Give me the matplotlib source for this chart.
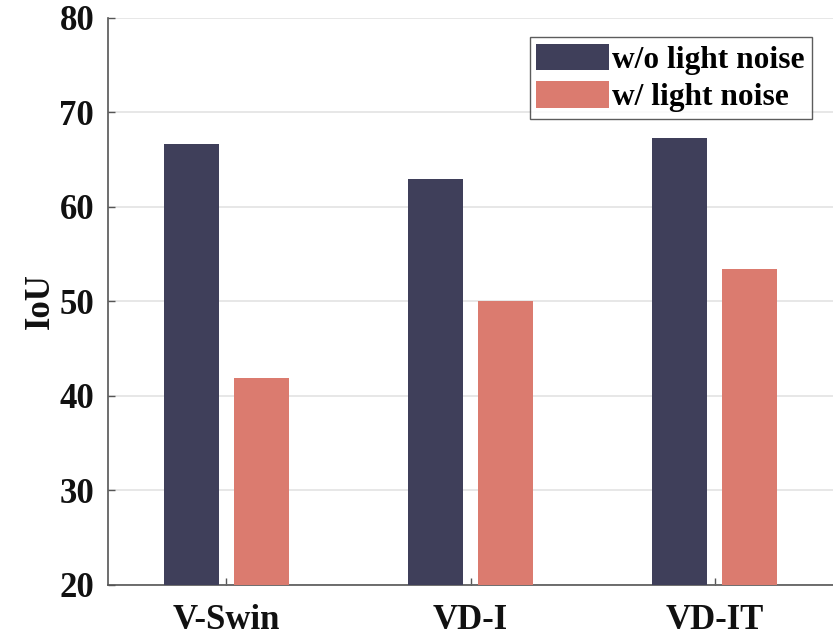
import matplotlib
matplotlib.use("Agg")
import matplotlib.pyplot as plt
import numpy as np

categories = ["V-Swin", "VD-I", "VD-IT"]
wo_noise = [66.7, 63.0, 67.3]
w_noise = [41.9, 50.1, 53.4]
series_labels = ["w/o light noise", "w/ light noise"]
yticks = [20, 30, 40, 50, 60, 70, 80]

plt.rcParams['font.family'] = ['Liberation Serif', 'DejaVu Serif']
plt.rcParams['font.weight'] = 'bold'

fig = plt.figure(figsize=(8.33, 6.36), dpi=100)
ax = fig.add_axes([0.1297, 0.0802, 0.8703, 0.8915])

x = np.arange(1, len(categories) + 1)
bw = 0.225
off = 0.143
ax.bar(x - off, wo_noise, bw, color='#3f3f5a', label=series_labels[0], zorder=3)
ax.bar(x + off, w_noise, bw, color='#db7b6f', label=series_labels[1], zorder=3)

ax.set_ylim(20, 80)
ax.set_xlim(0.517, 3.483)
ax.set_yticks(yticks)
ax.set_xticks(x)
ax.set_xticklabels(categories)
ax.yaxis.grid(True, color='#e3e3e3', linewidth=1.2, zorder=0)
ax.set_axisbelow(True)

for s in ['top', 'right']:
    ax.spines[s].set_visible(False)
for s in ['left', 'bottom']:
    ax.spines[s].set_color('#555555')
    ax.spines[s].set_linewidth(1.2)

ax.tick_params(axis='both', direction='in', length=5, width=1, color='#555555',
               labelsize=25, labelcolor='#111111')
ax.tick_params(axis='x', pad=14)
ax.tick_params(axis='y', pad=10)
for lab in ax.get_xticklabels() + ax.get_yticklabels():
    lab.set_fontweight('bold')

ax.set_ylabel('IoU', fontsize=25, fontweight='bold', color='#111111', labelpad=2)

leg = ax.legend(loc='upper right', bbox_to_anchor=(0.971, 0.9665), fontsize=22.6,
                frameon=True, fancybox=False, edgecolor='#333333',
                handlelength=2.3, handleheight=0.92, handletextpad=0.12,
                borderpad=0.22, labelspacing=0.2, borderaxespad=0)
leg.get_frame().set_linewidth(1.0)
for t in leg.get_texts():
    t.set_fontweight('bold')

fig.savefig('out.png', dpi=100, facecolor='white')
